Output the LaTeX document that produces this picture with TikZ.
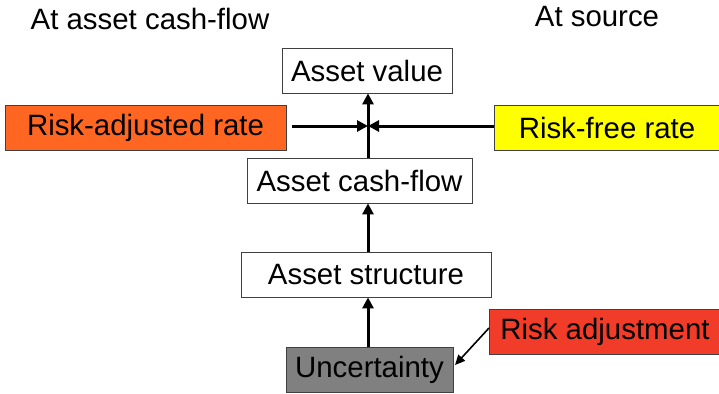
\documentclass[tikz,border=0pt]{standalone}
\usepackage{fontspec}
\setmainfont{Liberation Sans}
\usetikzlibrary{arrows.meta}
\definecolor{rateorange}{HTML}{FF6622}
\definecolor{freeyellow}{HTML}{FFFF00}
\definecolor{riskred}{HTML}{F03C28}
\definecolor{uncgray}{HTML}{808080}
\definecolor{edgegray}{HTML}{404040}
\tikzset{
  box/.style={draw=edgegray, line width=0.8pt, inner sep=0pt, minimum height=45pt,
    font=\fontsize{29.4}{32}\selectfont, text=black},
  flow/.style={line width=3pt, -{Triangle[length=11pt,width=11pt]}},
  thin flow/.style={line width=1.6pt, -{Triangle[length=10pt,width=9pt]}},
  caption/.style={font=\fontsize{29.4}{32}\selectfont, text=black}
}
\begin{document}
\begin{tikzpicture}[x=1pt,y=-1pt]
\useasboundingbox[fill=white] (0,0) rectangle (719,393);

% headings
\node[caption] (hcash) at (150,19) {At asset cash-flow};
\node[caption] (hsrc) at (597,17) {At source};

% boxes
\node[box, fill=white, minimum width=170pt] (value) at (367,70.5) {Asset value};
\node[box, fill=rateorange, minimum width=281pt] (radj) at (145.5,127.5) {Risk-adjusted rate};
\node[box, fill=freeyellow, minimum width=226pt] (rfree) at (607,127.5) {Risk-free rate};
\node[box, fill=white, minimum width=225pt] (cash) at (359.5,180.5) {Asset cash-flow};
\node[box, fill=white, minimum width=250pt] (struct) at (366,274.5) {Asset structure};
\node[box, fill=uncgray, minimum width=167pt] (unc) at (369.5,369.5) {Uncertainty};
\node[box, fill=riskred, minimum width=232pt] (radjust) at (605,331.5) {Risk adjustment};

% meeting point of the discount-rate arrows
\coordinate (join) at (368,126);

% main chain
\draw[flow] (join |- unc.north) -- (join |- struct.south);
\draw[flow] (join |- struct.north) -- (join |- cash.south);
\draw[flow] (join |- cash.north) -- (join |- value.south);

% discount rates
\draw[flow, shorten <=6pt] (radj.east |- join) -- (join);
\draw[flow] (rfree.west |- join) -- (join);

% risk adjustment applied to uncertainty
\coordinate (rastart) at (489,328);
\coordinate (raend) at (455,365);
\draw[thin flow] (rastart) -- (raend);
\end{tikzpicture}
\end{document}
